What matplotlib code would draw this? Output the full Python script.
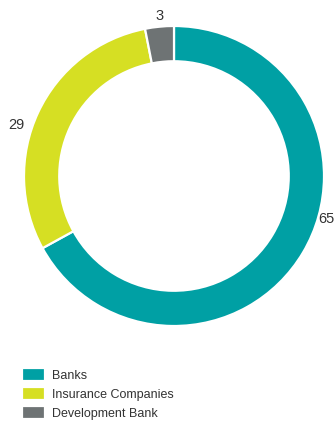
import numpy as np
import matplotlib
matplotlib.use("Agg")
import matplotlib.pyplot as plt

plt.rcParams['font.family'] = ['Liberation Sans Narrow', 'Liberation Sans', 'DejaVu Sans']

categories = ["Banks", "Insurance Companies", "Development Bank"]
values = [65, 29, 3]
labels = ["65", "29", "3"]
colors = ["#00A0A4", "#D6DF23", "#6E7374"]
text_color = "#333333"

fig = plt.figure(figsize=(3.36, 4.25), dpi=100)
W, H = 336, 425
# pie axes: centre (174,176) px, radius 150 px
ax = fig.add_axes([24 / W, (H - 326) / H, 300 / W, 300 / H])

wedges, texts = ax.pie(values, colors=colors, startangle=90, counterclock=False,
                       labels=labels, labeldistance=1.1,
                       wedgeprops=dict(width=0.235, edgecolor="white", linewidth=1.6),
                       textprops=dict(fontsize=10.5, color=text_color))
ax.set_xlim(-1, 1)
ax.set_ylim(-1, 1)
ax.set_aspect("equal")
ax.axis("off")

# label positions (axes fraction) tuned to the reference
label_pos = [(1.035, 0.357, "right"), (-0.027, 0.67, "center"), (0.453, 1.033, "center")]
for t, (x, y, ha) in zip(texts, label_pos):
    t.set_transform(ax.transAxes)
    t.set_position((x, y))
    t.set_ha(ha)
    t.set_va("center")

fig.legend(wedges, categories, loc="upper left",
           bbox_to_anchor=(16 / W, 1 - 362 / H), frameon=False,
           fontsize=9, handlelength=1.85, handleheight=1.15,
           handletextpad=0.55, labelspacing=0.45, borderpad=0,
           labelcolor=text_color)

fig.savefig("out.png", dpi=100)
